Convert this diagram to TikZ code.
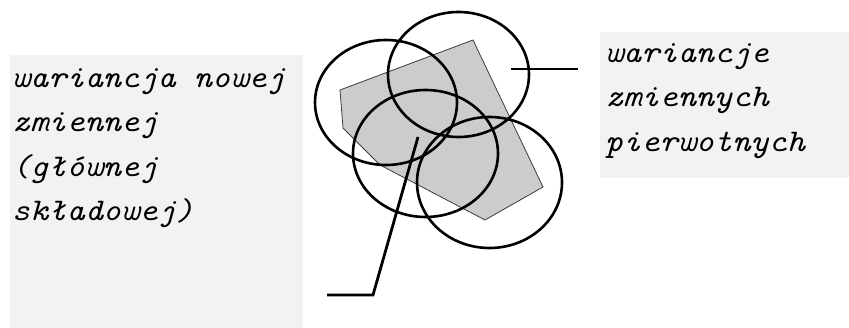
\documentclass[tikz,border=0pt]{standalone}
\usepackage{graphicx}
\usetikzlibrary{shapes.geometric}
\definecolor{boxgray}{RGB}{242,242,242}
\definecolor{polyfill}{RGB}{204,204,204}
\definecolor{polyedge}{RGB}{60,60,60}
\begin{document}
\begin{tikzpicture}[x=1pt,y=-1pt,
  panel/.style={fill=boxgray, draw=none, inner sep=0pt, outer sep=0pt, anchor=north west},
  lbl/.style={anchor=base west, inner sep=0pt, outer sep=0pt, font=\fontsize{31.5}{44}\selectfont\ttfamily\itshape},
  ring/.style={draw=black, line width=2.6pt, ellipse, inner sep=0pt, outer sep=0pt},
  wire/.style={draw=black, line width=2.8pt},
  ]
\useasboundingbox (0,0) rectangle (849,328);
% label panels
\node[panel, minimum width=293pt, minimum height=273pt] (leftbox) at (10,55) {};
\node[panel, minimum width=249pt, minimum height=146pt] (rightbox) at (600,32) {};
% grey polygon
\filldraw[fill=polyfill, draw=polyedge, line width=0.8pt]
  (340,90) -- (473,40) -- (543,187) -- (485,220) -- (380,165) -- (343,128) -- cycle;
% ellipses
\node[ring, minimum width=142pt, minimum height=125pt] (ringA) at (386,102.5) {};
\node[ring, minimum width=141pt, minimum height=125pt] (ringB) at (458.5,74.5) {};
\node[ring, minimum width=145pt, minimum height=127pt] (ringC) at (425.5,153.5) {};
\node[ring, minimum width=145pt, minimum height=131pt] (ringD) at (489.5,182.5) {};
% connectors
\coordinate (rtail) at (511,69);
\coordinate (rhead) at (578,69);
\draw[wire] (rtail) -- (rhead);
\coordinate (btop) at (418,137);
\coordinate (bknee) at (373,295);
\coordinate (bend) at (327,295);
\draw[wire] (btop) -- (bknee) -- (bend);
% left text
\node[lbl] (l1) at (12,88) {\scalebox{1.1}[1]{wariancja nowej}};
\node[lbl] (l2) at (12,132) {\scalebox{1.1}[1]{zmiennej}};
\node[lbl] (l3) at (12,177) {\scalebox{1.1}[1]{(głównej}};
\node[lbl] (l4) at (12,221) {\scalebox{1.1}[1]{składowej)}};
% right text
\node[lbl] (r1) at (605,63) {\scalebox{1.1}[1]{wariancje}};
\node[lbl] (r2) at (605,107) {\scalebox{1.1}[1]{zmiennych}};
\node[lbl] (r3) at (605,152) {\scalebox{1.1}[1]{pierwotnych}};
\end{tikzpicture}
\end{document}
